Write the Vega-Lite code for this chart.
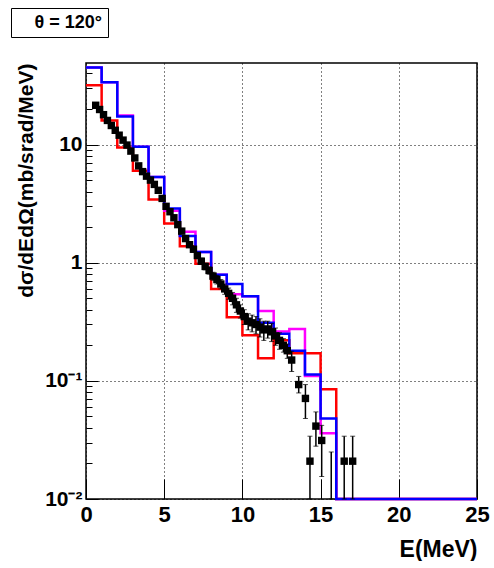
{
  "$schema": "https://vega.github.io/schema/vega-lite/v6.json",
  "background": "white",
  "padding": {"left": 10, "top": 7, "right": 0, "bottom": 0},
  "width": 391,
  "height": 436,
  "config": {
    "font": "Liberation Sans",
    "view": {"stroke": "black", "strokeWidth": 1.5}
  },
  "datasets": {
    "hist": [
      {"E": 0, "v": 31.7, "s": "red"}, {"E": 1, "v": 16.0, "s": "red"}, {"E": 2, "v": 9.45, "s": "red"}, {"E": 3, "v": 6.0, "s": "red"},
      {"E": 4, "v": 3.42, "s": "red"}, {"E": 5, "v": 2.15, "s": "red"}, {"E": 6, "v": 1.38, "s": "red"}, {"E": 7, "v": 0.98, "s": "red"},
      {"E": 8, "v": 0.6, "s": "red"}, {"E": 9, "v": 0.345, "s": "red"}, {"E": 10, "v": 0.243, "s": "red"}, {"E": 11, "v": 0.155, "s": "red"},
      {"E": 12, "v": 0.221, "s": "red"}, {"E": 13, "v": 0.171, "s": "red"}, {"E": 14, "v": 0.171, "s": "red"}, {"E": 15, "v": 0.085, "s": "red"},
      {"E": 16, "v": 0.01, "s": "red"}, {"E": 25, "v": 0.01, "s": "red"},
      {"E": 0, "v": 44.9, "s": "magenta"}, {"E": 1, "v": 33.7, "s": "magenta"}, {"E": 2, "v": 17.6, "s": "magenta"}, {"E": 3, "v": 9.6, "s": "magenta"},
      {"E": 4, "v": 5.3, "s": "magenta"}, {"E": 5, "v": 2.75, "s": "magenta"}, {"E": 6, "v": 1.83, "s": "magenta"}, {"E": 7, "v": 1.23, "s": "magenta"},
      {"E": 8, "v": 0.79, "s": "magenta"}, {"E": 9, "v": 0.54, "s": "magenta"}, {"E": 10, "v": 0.52, "s": "magenta"}, {"E": 11, "v": 0.39, "s": "magenta"},
      {"E": 12, "v": 0.262, "s": "magenta"}, {"E": 13, "v": 0.275, "s": "magenta"}, {"E": 14, "v": 0.11, "s": "magenta"}, {"E": 15, "v": 0.036, "s": "magenta"},
      {"E": 16, "v": 0.01, "s": "magenta"}, {"E": 25, "v": 0.01, "s": "magenta"},
      {"E": 0, "v": 44.9, "s": "blue"}, {"E": 1, "v": 33.7, "s": "blue"}, {"E": 2, "v": 17.3, "s": "blue"}, {"E": 3, "v": 9.6, "s": "blue"},
      {"E": 4, "v": 5.3, "s": "blue"}, {"E": 5, "v": 2.87, "s": "blue"}, {"E": 6, "v": 1.68, "s": "blue"}, {"E": 7, "v": 1.23, "s": "blue"},
      {"E": 8, "v": 0.79, "s": "blue"}, {"E": 9, "v": 0.66, "s": "blue"}, {"E": 10, "v": 0.52, "s": "blue"}, {"E": 11, "v": 0.31, "s": "blue"},
      {"E": 12, "v": 0.25, "s": "blue"}, {"E": 13, "v": 0.18, "s": "blue"}, {"E": 14, "v": 0.113, "s": "blue"}, {"E": 15, "v": 0.048, "s": "blue"},
      {"E": 16, "v": 0.01, "s": "blue"}, {"E": 25, "v": 0.01, "s": "blue"}
    ],
    "pts": [
      {"E": 0.62, "y": 21.5, "lo": 20.9, "hi": 22.1},
      {"E": 0.87, "y": 19.8, "lo": 19.2, "hi": 20.4},
      {"E": 1.12, "y": 17.9, "lo": 17.4, "hi": 18.4},
      {"E": 1.37, "y": 16.0, "lo": 15.5, "hi": 16.5},
      {"E": 1.62, "y": 14.5, "lo": 14.1, "hi": 14.9},
      {"E": 1.87, "y": 13.2, "lo": 12.8, "hi": 13.6},
      {"E": 2.12, "y": 12.0, "lo": 11.6, "hi": 12.4},
      {"E": 2.37, "y": 10.9, "lo": 10.6, "hi": 11.2},
      {"E": 2.62, "y": 9.9, "lo": 9.6, "hi": 10.2},
      {"E": 2.87, "y": 8.8, "lo": 8.5, "hi": 9.1},
      {"E": 3.12, "y": 7.7, "lo": 7.5, "hi": 7.9},
      {"E": 3.37, "y": 6.6, "lo": 6.4, "hi": 6.8},
      {"E": 3.62, "y": 5.9, "lo": 5.7, "hi": 6.1},
      {"E": 3.87, "y": 5.4, "lo": 5.2, "hi": 5.6},
      {"E": 4.12, "y": 5.0, "lo": 4.85, "hi": 5.15},
      {"E": 4.37, "y": 4.6, "lo": 4.45, "hi": 4.75},
      {"E": 4.62, "y": 4.1, "lo": 3.95, "hi": 4.25},
      {"E": 4.87, "y": 3.5, "lo": 3.38, "hi": 3.62},
      {"E": 5.12, "y": 3.0, "lo": 2.88, "hi": 3.12},
      {"E": 5.37, "y": 2.7, "lo": 2.59, "hi": 2.81},
      {"E": 5.62, "y": 2.4, "lo": 2.3, "hi": 2.5},
      {"E": 5.87, "y": 2.1, "lo": 2.01, "hi": 2.19},
      {"E": 6.12, "y": 1.85, "lo": 1.76, "hi": 1.94},
      {"E": 6.37, "y": 1.6, "lo": 1.52, "hi": 1.68},
      {"E": 6.62, "y": 1.42, "lo": 1.35, "hi": 1.49},
      {"E": 6.87, "y": 1.3, "lo": 1.23, "hi": 1.37},
      {"E": 7.12, "y": 1.15, "lo": 1.09, "hi": 1.21},
      {"E": 7.37, "y": 1.03, "lo": 0.97, "hi": 1.09},
      {"E": 7.62, "y": 0.93, "lo": 0.87, "hi": 0.99},
      {"E": 7.87, "y": 0.86, "lo": 0.8, "hi": 0.92},
      {"E": 8.12, "y": 0.77, "lo": 0.71, "hi": 0.83},
      {"E": 8.37, "y": 0.72, "lo": 0.66, "hi": 0.78},
      {"E": 8.62, "y": 0.66, "lo": 0.6, "hi": 0.72},
      {"E": 8.87, "y": 0.6, "lo": 0.54, "hi": 0.66},
      {"E": 9.12, "y": 0.55, "lo": 0.49, "hi": 0.61},
      {"E": 9.37, "y": 0.5, "lo": 0.44, "hi": 0.56},
      {"E": 9.62, "y": 0.44, "lo": 0.38, "hi": 0.5},
      {"E": 9.87, "y": 0.39, "lo": 0.34, "hi": 0.44},
      {"E": 10.12, "y": 0.35, "lo": 0.3, "hi": 0.4},
      {"E": 10.37, "y": 0.32, "lo": 0.27, "hi": 0.37},
      {"E": 10.62, "y": 0.31, "lo": 0.26, "hi": 0.36},
      {"E": 10.87, "y": 0.3, "lo": 0.25, "hi": 0.35},
      {"E": 11.12, "y": 0.285, "lo": 0.235, "hi": 0.335},
      {"E": 11.37, "y": 0.27, "lo": 0.22, "hi": 0.32},
      {"E": 11.62, "y": 0.275, "lo": 0.23, "hi": 0.32},
      {"E": 11.87, "y": 0.26, "lo": 0.215, "hi": 0.305},
      {"E": 12.12, "y": 0.24, "lo": 0.2, "hi": 0.28},
      {"E": 12.37, "y": 0.22, "lo": 0.185, "hi": 0.255},
      {"E": 12.62, "y": 0.2, "lo": 0.175, "hi": 0.228},
      {"E": 12.87, "y": 0.18, "lo": 0.155, "hi": 0.205},
      {"E": 13.15, "y": 0.15, "lo": 0.12, "hi": 0.178},
      {"E": 13.6, "y": 0.093, "lo": 0.079, "hi": 0.109},
      {"E": 14.03, "y": 0.071, "lo": 0.048, "hi": 0.093},
      {"E": 14.32, "y": 0.0209, "lo": 0.001, "hi": 0.034},
      {"E": 14.7, "y": 0.0414, "lo": 0.028, "hi": 0.0546},
      {"E": 15.07, "y": 0.0313, "lo": 0.0155, "hi": 0.042},
      {"E": 15.68, "y": null, "lo": 0.001, "hi": 0.025},
      {"E": 16.51, "y": 0.0209, "lo": 0.001, "hi": 0.034},
      {"E": 17.05, "y": 0.0209, "lo": 0.001, "hi": 0.034}
    ]
  },
  "resolve": {"axis": {"y": "independent"}},
  "layer": [
    {
      "data": {"name": "hist"},
      "transform": [{"filter": "datum.s == 'red'"}],
      "mark": {"type": "line", "interpolate": "step-after", "color": "#ff0000", "strokeWidth": 2.5},
      "encoding": {
        "x": {
          "field": "E", "type": "quantitative",
          "scale": {"domain": [0, 25], "nice": false, "zero": false},
          "axis": {
            "orient": "bottom",
            "values": [0, 5, 10, 15, 20, 25], "format": "d",
            "domain": false,
            "grid": true, "gridDash": [1, 3], "gridColor": "black", "gridOpacity": 1, "gridWidth": 1,
            "tickSize": -20, "tickColor": "black", "tickWidth": 1,
            "labelPadding": 25, "labelFont": "Liberation Sans", "labelFontWeight": "bold", "labelFontSize": 22, "labelColor": "black", "labelFlush": false,
            "title": "E(MeV)", "titleFont": "Liberation Sans", "titleFontWeight": "bold", "titleFontSize": 23, "titleColor": "black",
            "titleAnchor": "end", "titlePadding": 13
          }
        },
        "y": {
          "field": "v", "type": "quantitative",
          "scale": {"type": "log", "domain": [0.01, 49], "nice": false, "clamp": true},
          "axis": {
            "orient": "left",
            "values": [0.01, 0.1, 1, 10],
            "labelExpr": "datum.value < 0.05 ? '10⁻²' : datum.value < 0.5 ? '10⁻¹' : datum.value < 5 ? '1' : '10'",
            "domain": false,
            "grid": true, "gridDash": [1, 3], "gridColor": "black", "gridOpacity": 1, "gridWidth": 1,
            "tickSize": -12, "tickColor": "black", "tickWidth": 1,
            "labelPadding": 16, "labelFont": "Liberation Sans", "labelFontWeight": "bold", "labelFontSize": 21, "labelColor": "black",
            "title": "dσ/dEdΩ(mb/srad/MeV)", "titleFont": "Liberation Sans", "titleFontWeight": "bold", "titleFontSize": 21, "titleColor": "black",
            "titleAnchor": "end", "titlePadding": 8
          }
        }
      }
    },
    {
      "data": {"name": "hist"},
      "transform": [{"filter": "datum.s == 'magenta'"}],
      "mark": {"type": "line", "interpolate": "step-after", "color": "#ff00ff", "strokeWidth": 2.5},
      "encoding": {
        "x": {"field": "E", "type": "quantitative"},
        "y": {
          "field": "v", "type": "quantitative",
          "axis": {
            "orient": "left",
            "values": [0.02, 0.03, 0.04, 0.05, 0.06, 0.07, 0.08, 0.09, 0.2, 0.3, 0.4, 0.5, 0.6, 0.7, 0.8, 0.9, 2, 3, 4, 5, 6, 7, 8, 9, 20, 30, 40],
            "labels": false, "domain": false, "grid": false,
            "tickSize": -6, "tickColor": "black", "tickWidth": 1,
            "title": null
          }
        }
      }
    },
    {
      "data": {"name": "hist"},
      "transform": [{"filter": "datum.s == 'blue'"}],
      "mark": {"type": "line", "interpolate": "step-after", "color": "#0000ff", "strokeWidth": 2.5},
      "encoding": {
        "x": {"field": "E", "type": "quantitative"},
        "y": {"field": "v", "type": "quantitative", "axis": null}
      }
    },
    {
      "data": {"name": "pts"},
      "mark": {"type": "errorbar", "color": "black", "ticks": {"size": 5, "strokeWidth": 1.2}, "rule": {"strokeWidth": 1.5}},
      "encoding": {
        "x": {"field": "E", "type": "quantitative"},
        "y": {"field": "lo", "type": "quantitative", "axis": null},
        "y2": {"field": "hi"}
      }
    },
    {
      "data": {"name": "pts"},
      "mark": {"type": "point", "shape": "square", "filled": true, "size": 55, "opacity": 1},
      "encoding": {
        "x": {"field": "E", "type": "quantitative"},
        "y": {"field": "y", "type": "quantitative", "axis": null},
        "color": {
          "datum": " θ = 120° ",
          "type": "nominal",
          "scale": {"range": ["black"]},
          "legend": {
            "orient": "none", "legendX": -75, "legendY": -55,
            "title": null,
            "strokeColor": "black", "fillColor": "white", "padding": 5.5,
            "symbolOpacity": 0, "symbolSize": 0, "symbolStrokeWidth": 0, "labelOffset": 0,
            "labelFont": "Liberation Sans", "labelFontWeight": "bold", "labelFontSize": 18, "labelColor": "black", "labelLimit": 0
          }
        }
      }
    }
  ]
}
